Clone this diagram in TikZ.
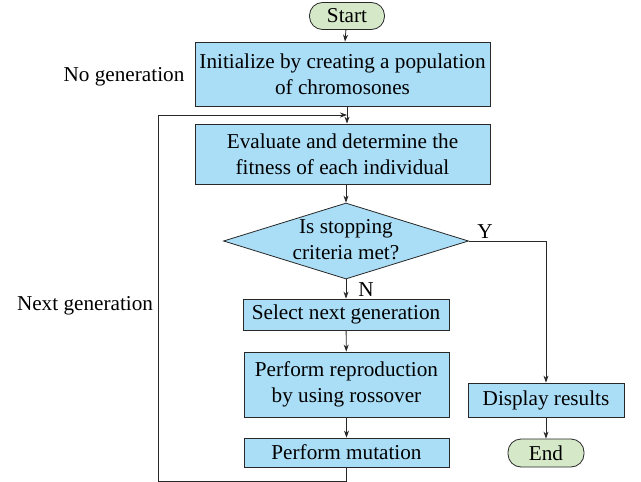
\documentclass[tikz,border=0pt]{standalone}
\usepackage{fontspec}
\setmainfont{Liberation Serif}
\usetikzlibrary{shapes.geometric,arrows.meta}
\definecolor{boxblue}{RGB}{170,221,246}
\definecolor{termgreen}{RGB}{213,232,200}
\definecolor{edge}{RGB}{40,40,40}
\begin{document}
\begin{tikzpicture}[x=1pt, y=-1pt,
  every node/.style = {font=\fontsize{21.2}{26}\selectfont, align=center, inner sep=0pt},
  term/.style = {shape=rectangle, draw=edge, fill=termgreen, rounded corners=13pt,
    minimum height=27pt, line width=0.8pt},
  proc/.style = {shape=rectangle, draw=edge, fill=boxblue, line width=0.8pt},
  decision/.style = {shape=diamond, draw=edge, fill=boxblue, line width=0.8pt,
    minimum width=245pt, minimum height=76pt},
  line/.style = {draw=edge, line width=0.8pt, -{Stealth[length=7pt,width=5pt]}}]
  \useasboundingbox (0,0) rectangle (641,482);
  % main column
  \node[term, minimum width=75pt] (start) at (347,16) {Start};
  \node[proc, minimum width=295pt, minimum height=64pt] (init) at (342.5,74)
    {Initialize by creating a population\\of chromosones};
  \node[proc, minimum width=295pt, minimum height=60pt] (eval) at (342.5,154)
    {Evaluate and determine the\\fitness of each individual};
  \node[decision] (test) at (346,241) {};
  \node (testtext) at (346,240) {Is stopping\\criteria met?};
  \node[proc, minimum width=206pt, minimum height=31pt] (select) at (346,314.5)
    {Select next generation};
  \node[proc, minimum width=205pt, minimum height=65pt] (repro) at (346.5,384.5)
    {Perform reproduction\\by using rossover};
  \node[proc, minimum width=205pt, minimum height=29pt] (mutate) at (346.5,452.5)
    {Perform mutation};
  % right branch
  \node[proc, minimum width=156pt, minimum height=34pt] (show) at (546,400)
    {Display results};
  \node[term, minimum width=76pt, minimum height=28pt] (end) at (546,453) {End};
  % side labels
  \node (nogen) at (124,77) {No generation};
  \node (nextgen) at (85,306) {Next generation};
  \node (yes) at (485,232) {Y};
  \node (no) at (366,290) {N};
  % loop corners
  \coordinate (low) at (158,481);
  \coordinate (back) at (158,115);
  \coordinate (join) at (347,115);
  \draw[line] (start) -- (init);
  \draw[line] (init.south -| join) -- (eval.north -| join);
  \draw[line] (eval.south -| test) -- (test.north);
  \draw[line] (test.south) -- (select);
  \draw[line] (select) -- (repro);
  \draw[line] (repro.south -| mutate) -- (mutate);
  \draw[line] (mutate.south) |- (low) -- (back) -- (join);
  \draw[line] (test.east) -| (show.north);
  \draw[line] (show) -- (end);
\end{tikzpicture}
\end{document}
